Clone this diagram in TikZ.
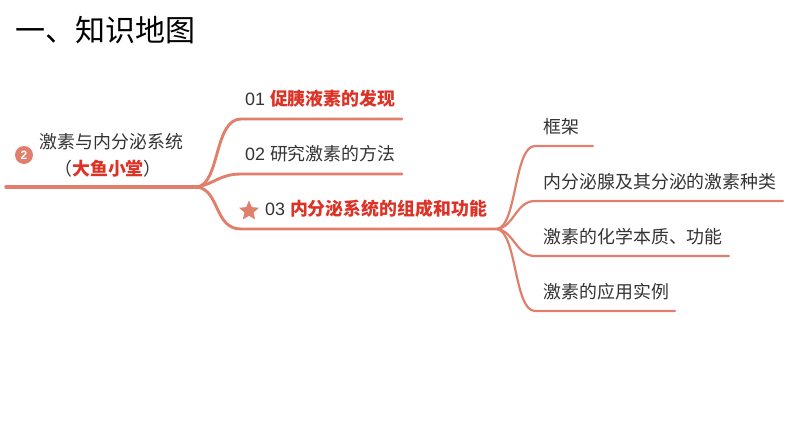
\documentclass[tikz,border=0pt]{standalone}
\usepackage{fontspec}
\setmainfont{Noto Sans CJK SC}
\newfontfamily\latinf{Liberation Sans}
\usetikzlibrary{shapes.geometric}
\definecolor{branchc}{HTML}{E07F6C}
\definecolor{redt}{HTML}{DD3226}
\definecolor{textc}{HTML}{333333}
\tikzset{
 lbl/.style={inner sep=0pt,anchor=west,text=textc,font=\fontsize{17.9}{20}\selectfont},
 thick1/.style={draw=branchc,line width=3.4pt,line cap=round},
 mid1/.style={draw=branchc,line width=2.9pt,line cap=round},
 thin1/.style={draw=branchc,line width=2.2pt,line cap=round},
}
\newcommand{\redb}[1]{\textcolor{redt}{\bfseries #1}}
\newcommand{\numl}[1]{{\latinf #1 }}
\begin{document}
\begin{tikzpicture}[x=1pt,y=-1pt]
\useasboundingbox (0,0) rectangle (794,447);
\node[inner sep=0pt,anchor=west,text=black,font=\fontsize{30}{34}\selectfont] (title) at (15,30) {一、知识地图};
% coordinates
\coordinate (rs) at (6,187);
\coordinate (rj) at (197,187);
\coordinate (e1) at (402,119);
\coordinate (e2) at (402,174);
\coordinate (e3) at (497,229);
\coordinate (s1) at (593,146);
\coordinate (s2) at (783,201);
\coordinate (s3) at (729,256);
\coordinate (s4) at (675,311);
% root
\draw[thick1] (rs) -- (rj);
\draw[mid1] (rj) .. controls (220,184) and (214,119) .. (241,119) -- (e1);
\draw[mid1] (rj) .. controls (214,184) and (220,174) .. (241,174) -- (e2);
\draw[mid1] (rj) .. controls (220,190) and (214,229) .. (241,229) -- (e3);
\draw[thin1] (e3) .. controls (517,226) and (514,146) .. (535,146) -- (s1);
\draw[thin1] (e3) .. controls (514,227) and (516,201) .. (535,201) -- (s2);
\draw[thin1] (e3) .. controls (514,231) and (516,256) .. (535,256) -- (s3);
\draw[thin1] (e3) .. controls (517,232) and (514,311) .. (535,311) -- (s4);
% labels
\node[circle,fill=branchc,inner sep=0pt,minimum size=18pt,text=white,font=\latinf\fontsize{12}{14}\selectfont\bfseries] (badge) at (24,155) {2};
\node[lbl,anchor=center] (r1) at (111.5,142) {激素与内分泌系统};
\node[lbl,anchor=center] (r2) at (108,169) {（\redb{大鱼小堂}）};
\node[lbl] (n1) at (245,99) {\numl{01}\redb{促胰液素的发现}};
\node[lbl] (n2) at (245,154) {\numl{02}研究激素的方法};
\node[star,star points=5,star point ratio=2.2,fill=branchc,inner sep=0pt,minimum size=21pt] (st) at (249,211) {};
\node[lbl] (n3) at (265,209) {\numl{03}\redb{内分泌系统的组成和功能}};
\node[lbl] (t1) at (543.5,127) {框架};
\node[lbl] (t2) at (543.5,182) {内分泌腺及其分泌的激素种类};
\node[lbl] (t3) at (543.5,237) {激素的化学本质、功能};
\node[lbl] (t4) at (543.5,292) {激素的应用实例};
\end{tikzpicture}
\end{document}
